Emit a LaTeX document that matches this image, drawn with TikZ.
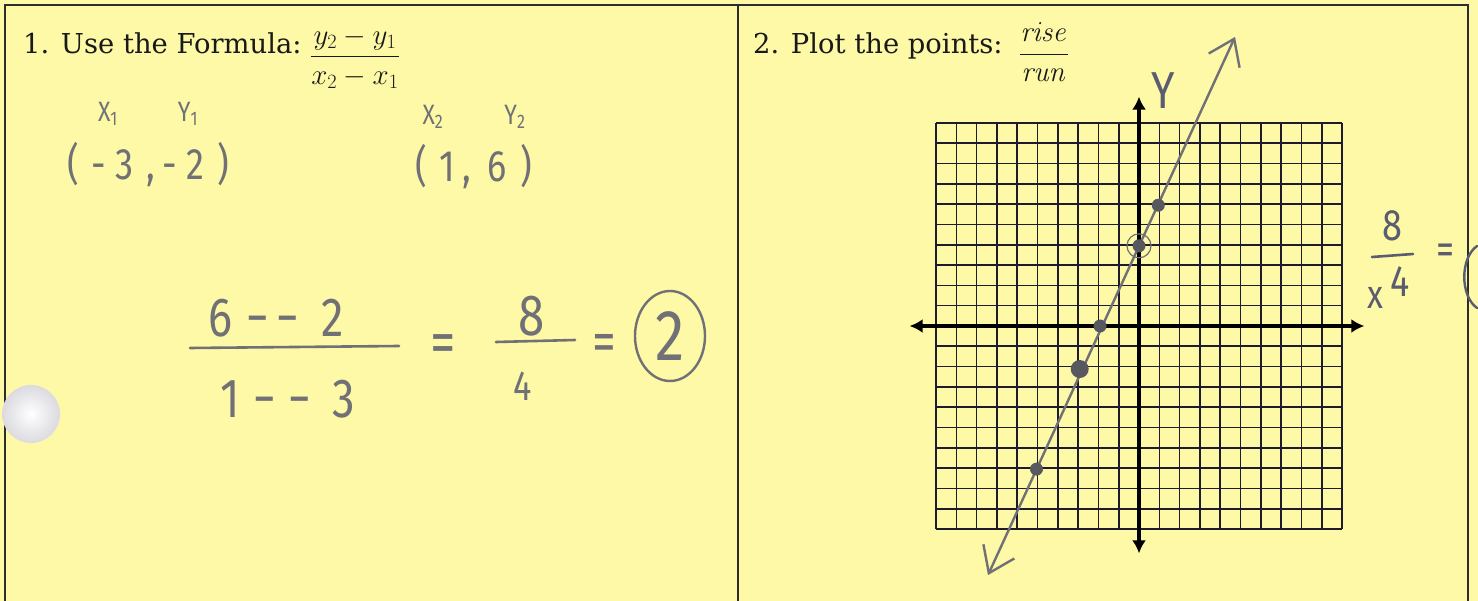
\RequirePackage{fix-cm}
\documentclass[tikz,border=0pt]{standalone}
\usepackage[no-math]{fontspec}
\usepackage{amsmath}
\setmainfont{DejaVu Serif}
\newfontfamily\handfont{Fira Sans}[FakeStretch=0.82]
\usetikzlibrary{arrows.meta, shapes.geometric}
\definecolor{PaperYellow}{RGB}{253,249,166}
\definecolor{PencilGrey}{RGB}{112,112,118}
\definecolor{PenBlue}{RGB}{92,92,112}
\definecolor{DotGrey}{RGB}{88,88,96}
\definecolor{GridInk}{RGB}{30,28,44}
\definecolor{RuleInk}{RGB}{45,45,45}
\definecolor{HoleGrey}{RGB}{218,218,224}

\begin{document}
\begin{tikzpicture}[
  x=1pt, y=-1pt,
  heading/.style={font=\fontsize{27.4}{32}\selectfont, text=black!90, anchor=base west, inner sep=0pt},
  formula/.style={font=\fontsize{29}{34}\selectfont, text=black!90, inner sep=0pt},
  hand/.style={text=PencilGrey, font=\handfont\fontsize{#1}{#1}\selectfont, inner sep=0pt},
  hand/.default=40,
  spaced/.style={font=\handfont\fontsize{#1}{#1}\selectfont\addfontfeatures{LetterSpace=28}},
  fracbar/.style={draw=PencilGrey, line width=2.6pt, line cap=round},
  panelrule/.style={draw=RuleInk, line width=2pt},
  gridline/.style={draw=GridInk, line width=1.6pt},
  axisline/.style={draw=black, line width=3.6pt, {Latex[length=13pt,width=14pt]}-{Latex[length=13pt,width=14pt]}},
  penline/.style={draw=PencilGrey, line width=2.4pt, line cap=round, {Straight Barb[length=24pt,width=34pt]}-{Straight Barb[length=24pt,width=34pt]}},
  plotdot/.style={circle, fill=DotGrey, inner sep=0pt, minimum size=13pt}
]
\fill[PaperYellow] (0,0) rectangle (1478,601);
\useasboundingbox (0,0) rectangle (1478,601);

% panel frame
\draw[panelrule] (5,601) -- (5,5) -- (1468,5) -- (1468,601);
\draw[panelrule] (738,5) -- (738,601);
\shade[inner color=white, outer color=HoleGrey] (31,414) circle [radius=29];

% part 1
\node[heading] (qone) at (23,54) {1. Use the Formula:};
\node[formula] (qonefrac) at (355,58) {$\displaystyle\frac{y_2 - y_1}{x_2 - x_1}$};

\node[hand=28] (xa) at (108,114) {X\textsubscript{1}};
\node[hand=28] (ya) at (188,114) {Y\textsubscript{1}};
\node[hand, spaced=44] (pta) at (148,165) {(-3,\,-2)};
\node[hand=28] (xb) at (433,117) {X\textsubscript{2}};
\node[hand=28] (yb) at (515,117) {Y\textsubscript{2}};
\node[hand=44] (ptb) at (474,167) {(\hspace{12pt}1\hspace{8pt},\hspace{16pt}6\hspace{14pt})};

\node[hand=55, anchor=west] (numa) at (208,318) {6\hspace{14pt}−\hspace{8pt}−\hspace{22pt}2};
\draw[fracbar] (190,348) -- (399,346);
\node[hand=55, anchor=west] (dena) at (220,399) {1\hspace{14pt}−\hspace{12pt}−\hspace{22pt}3};
\node[hand=62] (eqa) at (443,349) {=};
\node[hand=58] (numb) at (532,316) {8};
\draw[fracbar] (496,342) -- (575,340);
\node[hand=42] (denb) at (523,386) {4};
\node[hand=58] (eqb) at (604,348) {=};
\node[hand=72, ellipse, draw=PencilGrey, line width=2.4pt, minimum width=70pt, minimum height=90pt] (ans) at (670,336) {2};

% part 2
\node[heading] (qtwo) at (753,54) {2. Plot the points:};
\node[formula] (qtwofrac) at (1044,52) {$\displaystyle\frac{\mathit{rise}}{\mathit{run}}$};

\begin{scope}[shift={(1139,326)}, x=20.3pt, y=20.3pt]
  \foreach \k in {-10,...,10} {
    \draw[gridline] (\k,-10) -- (\k,10);
    \draw[gridline] (-10,\k) -- (10,\k);
  }
  \coordinate (xleft) at (-11.3,0);
  \coordinate (xright) at (11.1,0);
  \coordinate (ybottom) at (0,-11.2);
  \coordinate (ytop) at (0,11.3);
  \draw[axisline] (xleft) -- (xright);
  \draw[axisline] (ybottom) -- (ytop);
  \coordinate (lineend) at (-7.44,-12.27);
  \coordinate (linetip) at (4.73,14.24);
  \draw[penline] (lineend) -- (linetip);
  \node[plotdot] (pa) at (0.95,5.95) {};
  \node[plotdot] (pb) at (0,3.95) {};
  \node[plotdot] (pc) at (-1.92,0) {};
  \node[plotdot, minimum width=18pt, minimum height=14pt] (pd) at (-2.92,-2.12) {};
  \node[plotdot] (pe) at (-5.05,-7.05) {};
  \node[circle, draw=PencilGrey, line width=1.2pt, minimum size=24pt] (pring) at (pb) {};
  \node[hand=52, text=PenBlue] (ylab) at (1.2,11.6) {Y};
\end{scope}

\node[hand=44, text=PenBlue] (rnum) at (1392,226) {8};
\draw[fracbar, draw=PenBlue] (1372,257) -- (1413,254);
\node[hand=40, text=PenBlue] (rx) at (1375,298) {x};
\node[hand=44, text=PenBlue] (rden) at (1400,282) {4};
\node[hand=44, text=PenBlue] (req) at (1446,254) {=};
\draw[PenBlue, line width=2.4pt, line cap=round] (1477,246) .. controls (1460,258) and (1460,296) .. (1477,308);
\end{tikzpicture}
\end{document}
